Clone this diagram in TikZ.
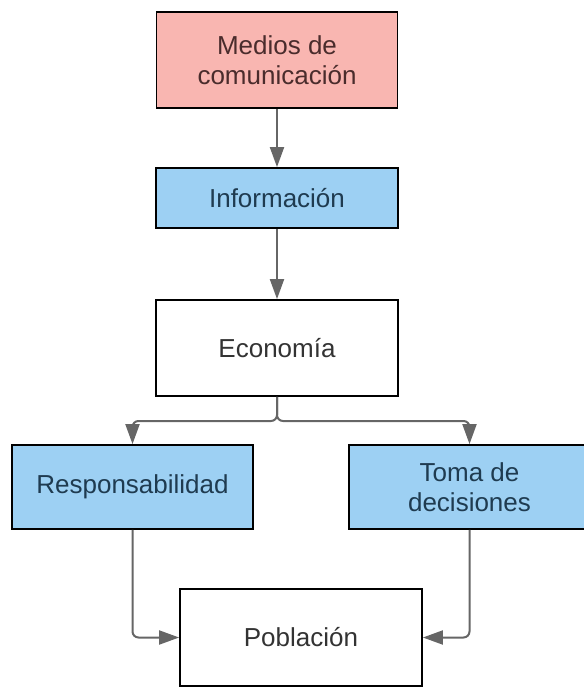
\documentclass[tikz,border=0pt]{standalone}
\usepackage{fontspec}
\setmainfont{Liberation Sans}
\usetikzlibrary{arrows.meta}
\definecolor{pinkfill}{HTML}{F9B6B1}
\definecolor{bluefill}{HTML}{9DD0F3}
\definecolor{linegray}{HTML}{666666}
\definecolor{txtdark}{HTML}{333333}
\definecolor{txtpink}{HTML}{4A2C2C}
\definecolor{txtblue}{HTML}{1F3B50}
\tikzset{
  box/.style={draw=black, line width=1.8pt, align=center, inner sep=0pt,
    font=\fontsize{26}{30}\selectfont, text=txtdark, fill=white},
  pinkbox/.style={box, fill=pinkfill, text=txtpink},
  bluebox/.style={box, fill=bluefill, text=txtblue},
  conn/.style={draw=linegray, line width=2pt, rounded corners=6pt,
    -{Triangle[length=20pt,width=14pt]}}
}
\begin{document}
\begin{tikzpicture}[x=1pt,y=-1pt]
\useasboundingbox (0,0) rectangle (583,687);
\node[pinkbox, minimum width=241pt, minimum height=96pt] (med) at (277,60) {Medios de\\comunicación};
\node[bluebox, minimum width=242pt, minimum height=60pt] (inf) at (277,198) {Información};
\node[box, minimum width=242pt, minimum height=96pt] (eco) at (277,348) {Economía};
\node[bluebox, minimum width=241pt, minimum height=84pt] (resp) at (132.5,487) {Responsabilidad};
\node[bluebox, minimum width=241pt, minimum height=84pt] (toma) at (469.5,487) {Toma de\\decisiones};
\node[box, minimum width=242pt, minimum height=97pt] (pob) at (301,637.5) {Población};
\coordinate (split) at (277,421);
\draw[conn] (med) -- (inf);
\draw[conn] (inf) -- (eco);
\draw[conn] (eco.south) -- (split) -- (resp.north |- split) -- (resp.north);
\draw[conn] (eco.south) -- (split) -- (toma.north |- split) -- (toma.north);
\draw[conn] (resp.south) -- (resp.south |- pob.west) -- (pob.west);
\draw[conn] (toma.south) -- (toma.south |- pob.east) -- (pob.east);
\end{tikzpicture}
\end{document}
